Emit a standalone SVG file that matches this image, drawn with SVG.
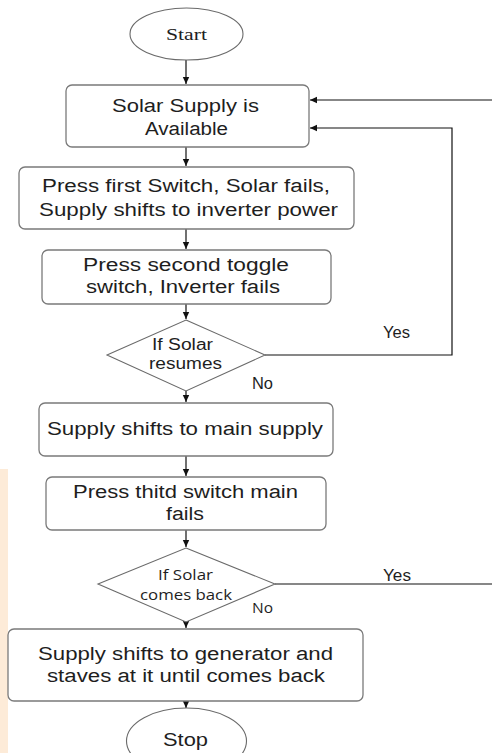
<svg xmlns="http://www.w3.org/2000/svg" width="492" height="753" viewBox="0 0 492 753">
<style>
.box{fill:#fff;stroke:#7a7a7a;stroke-width:1.3}
.shape{fill:#fff;stroke:#6a6a6a;stroke-width:1.1}
.t{font-family:"Liberation Sans",Arial,sans-serif;font-size:18px;fill:#1e1e1e}
.s{font-family:"Liberation Sans",Arial,sans-serif;font-size:16px;fill:#1e1e1e}
.o{font-family:"Open Sans","Noto Sans",sans-serif;font-size:14px;fill:#1e1e1e}
.c{fill:none;stroke:#111;stroke-width:1.2}
</style>
<defs>
<marker id="ah" markerWidth="8" markerHeight="8" refX="7" refY="4" orient="auto" markerUnits="userSpaceOnUse">
<path d="M0,0.8 L7,4 L0,7.2 Z" fill="#111"/>
</marker>
</defs>
<rect x="0" y="469" width="8" height="284" fill="#fdebd8"/>
<g id="connectors">
<line class="c" x1="186" y1="60" x2="186" y2="84" marker-end="url(#ah)"/>
<line class="c" x1="186" y1="147" x2="186" y2="166" marker-end="url(#ah)"/>
<line class="c" x1="186" y1="229" x2="186" y2="249" marker-end="url(#ah)"/>
<line class="c" x1="186" y1="304" x2="186" y2="319" marker-end="url(#ah)"/>
<line class="c" x1="186" y1="391" x2="186" y2="402" marker-end="url(#ah)"/>
<line class="c" x1="186" y1="456" x2="186" y2="476" marker-end="url(#ah)"/>
<line class="c" x1="186" y1="530" x2="186" y2="547" marker-end="url(#ah)"/>
<line class="c" x1="186" y1="622" x2="186" y2="628" marker-end="url(#ah)"/>
<line class="c" x1="186" y1="701" x2="186" y2="708" marker-end="url(#ah)"/>
<polyline class="c" points="265,355 452,355 452,128 310,128" marker-end="url(#ah)"/>
<line class="c" x1="275" y1="584" x2="492" y2="584"/>
<line class="c" x1="492" y1="100" x2="310" y2="100" marker-end="url(#ah)"/>
<text class="s" x="383" y="338" textLength="27" lengthAdjust="spacingAndGlyphs">Yes</text>
<text class="s" x="252" y="389" textLength="21" lengthAdjust="spacingAndGlyphs">No</text>
<text class="s" x="383" y="581" textLength="28" lengthAdjust="spacingAndGlyphs">Yes</text>
<text class="o" x="252" y="613" textLength="21" lengthAdjust="spacingAndGlyphs">No</text>
</g>
<g id="start">
<ellipse class="shape" cx="186.5" cy="34" rx="56.5" ry="26"/>
<text x="166" y="40" font-family="'Liberation Serif','Times New Roman',serif" font-size="16" fill="#1e1e1e" textLength="41" lengthAdjust="spacingAndGlyphs">Start</text>
</g>
<g id="solar-available">
<rect class="box" x="66" y="85" width="243" height="62" rx="6"/>
<text class="t" x="112" y="112" textLength="147" lengthAdjust="spacingAndGlyphs">Solar Supply is</text>
<text class="t" x="145" y="135" textLength="83" lengthAdjust="spacingAndGlyphs">Available</text>
</g>
<g id="press-first">
<rect class="box" x="19" y="167" width="335" height="62" rx="6"/>
<text class="t" x="42" y="192" textLength="288" lengthAdjust="spacingAndGlyphs">Press first Switch, Solar fails,</text>
<text class="t" x="39" y="216" textLength="299" lengthAdjust="spacingAndGlyphs">Supply shifts to inverter power</text>
</g>
<g id="press-second">
<rect class="box" x="42" y="250" width="289" height="54" rx="6"/>
<text class="t" x="83" y="271" textLength="206" lengthAdjust="spacingAndGlyphs">Press second toggle</text>
<text class="t" x="86" y="293" textLength="194" lengthAdjust="spacingAndGlyphs">switch, Inverter fails</text>
</g>
<g id="if-solar-resumes">
<polygon class="shape" points="186,320 265,355 186,391 107,355"/>
<text class="s" x="152" y="350" textLength="61" lengthAdjust="spacingAndGlyphs">If Solar</text>
<text class="s" x="149" y="369" textLength="73" lengthAdjust="spacingAndGlyphs">resumes</text>
</g>
<g id="main-supply">
<rect class="box" x="39" y="403" width="294" height="53" rx="6"/>
<text class="t" x="47" y="435" textLength="276" lengthAdjust="spacingAndGlyphs">Supply shifts to main supply</text>
</g>
<g id="press-third">
<rect class="box" x="46" y="477" width="280" height="53" rx="6"/>
<text class="t" x="73" y="498" textLength="225" lengthAdjust="spacingAndGlyphs">Press thitd switch main</text>
<text class="t" x="166" y="520" textLength="38" lengthAdjust="spacingAndGlyphs">fails</text>
</g>
<g id="if-solar-comes-back">
<polygon class="shape" points="186,548 275,584 186,622 98,584"/>
<text class="o" x="158" y="580" textLength="55" lengthAdjust="spacingAndGlyphs">If Solar</text>
<text class="o" x="140" y="600" textLength="92" lengthAdjust="spacingAndGlyphs">comes back</text>
</g>
<g id="generator">
<rect class="box" x="8" y="629" width="355" height="72" rx="6"/>
<text class="t" x="38" y="660" textLength="295" lengthAdjust="spacingAndGlyphs">Supply shifts to generator and</text>
<text class="t" x="47" y="682" textLength="278" lengthAdjust="spacingAndGlyphs">staves at it until comes back</text>
</g>
<g id="stop">
<ellipse class="shape" cx="186.5" cy="741" rx="60" ry="33"/>
<text class="t" x="163" y="746" textLength="45" lengthAdjust="spacingAndGlyphs">Stop</text>
</g>
</svg>
